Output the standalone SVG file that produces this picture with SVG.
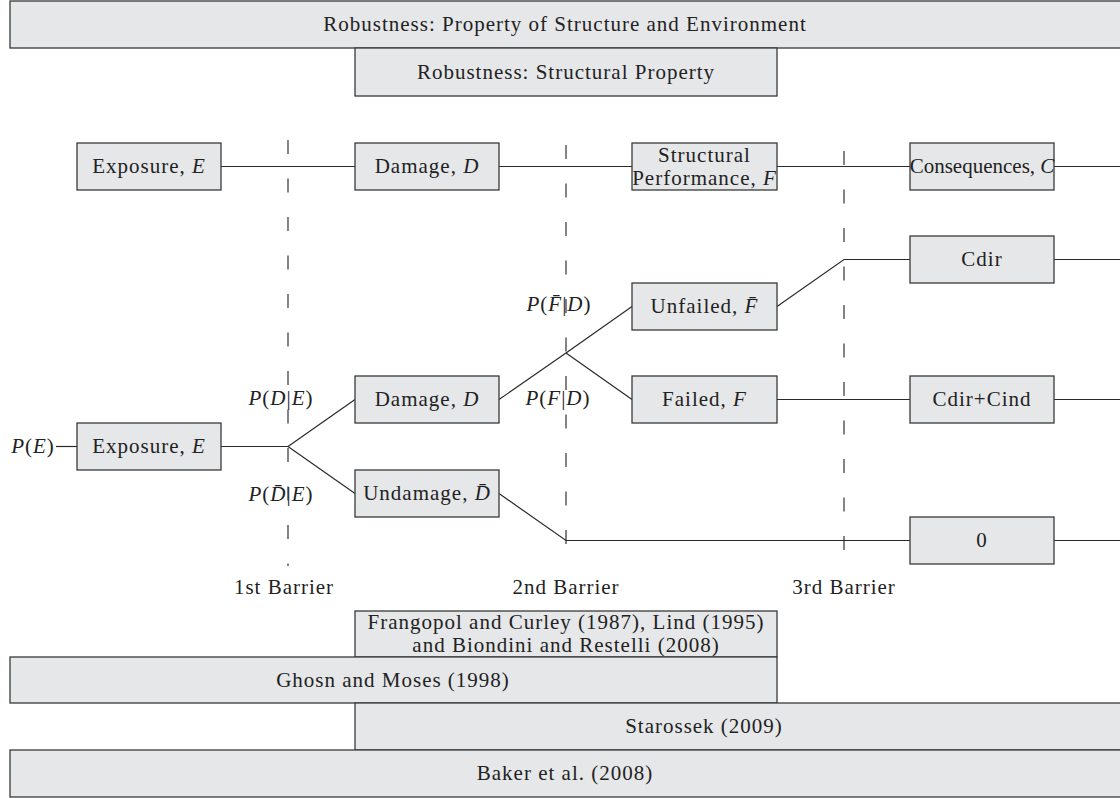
<svg xmlns="http://www.w3.org/2000/svg" width="1120" height="798" viewBox="0 0 1120 798">
<style>
  .box { fill: #e6e7e9; stroke: #3a3a3a; stroke-width: 1.3; }
  .t { font-family: "Liberation Serif", "Times New Roman", serif; font-size: 21px; fill: #222; text-anchor: middle; letter-spacing: 1px; }
  .tight { letter-spacing: 0px; }
  .i { font-style: italic; }
  .ln { fill: none; stroke: #2a2a2a; stroke-width: 1.2; }
  .bar { fill: none; stroke: #333; stroke-width: 1.2; stroke-dasharray: 14 24.5; }
</style>
<rect width="1120" height="798" fill="#ffffff"/>

<!-- barriers -->
<g id="barriers">
  <line class="bar" x1="288" y1="140" x2="288" y2="566"/>
  <line class="bar" x1="566" y1="143" x2="566" y2="566" stroke-dashoffset="36.5"/>
  <line class="bar" x1="844" y1="143" x2="844" y2="566" stroke-dashoffset="30.5"/>
  <text class="t" x="284" y="594">1st Barrier</text>
  <text class="t" x="566" y="594">2nd Barrier</text>
  <text class="t" x="844" y="594">3rd Barrier</text>
</g>

<!-- connectors -->
<g id="connectors">
  <line class="ln" x1="221" y1="166.5" x2="355" y2="166.5"/>
  <line class="ln" x1="499" y1="166.5" x2="632" y2="166.5"/>
  <line class="ln" x1="777" y1="166.5" x2="910" y2="166.5"/>
  <line class="ln" x1="1054" y1="166.5" x2="1125" y2="166.5"/>

  <line class="ln" x1="56" y1="446.5" x2="77" y2="446.5"/>
  <line class="ln" x1="221" y1="446.5" x2="288" y2="446.5"/>
  <line class="ln" x1="288" y1="446.5" x2="355" y2="399.5"/>
  <line class="ln" x1="288" y1="446.5" x2="355" y2="493.5"/>

  <line class="ln" x1="499" y1="399.5" x2="566" y2="353"/>
  <line class="ln" x1="566" y1="353" x2="632" y2="306.5"/>
  <line class="ln" x1="566" y1="353" x2="632" y2="399.5"/>

  <polyline class="ln" points="777,306.5 844,259.5 910,259.5"/>
  <line class="ln" x1="777" y1="399.5" x2="910" y2="399.5"/>
  <polyline class="ln" points="499,493.5 566,540.5 910,540.5"/>

  <line class="ln" x1="1054" y1="259.5" x2="1125" y2="259.5"/>
  <line class="ln" x1="1054" y1="399.5" x2="1125" y2="399.5"/>
  <line class="ln" x1="1054" y1="540.5" x2="1125" y2="540.5"/>
</g>

<!-- header boxes -->
<g id="robust-env">
  <rect class="box" x="10" y="1" width="1120" height="47"/>
  <text class="t" x="565" y="31">Robustness: Property of Structure and Environment</text>
</g>
<g id="robust-struct">
  <rect class="box" x="355" y="48" width="422" height="48"/>
  <text class="t" x="566" y="79">Robustness: Structural Property</text>
</g>

<!-- row 1 -->
<g id="exposure-top">
  <rect class="box" x="77" y="143" width="144" height="47"/>
  <text class="t" x="149" y="173">Exposure, <tspan class="i">E</tspan></text>
</g>
<g id="damage-top">
  <rect class="box" x="355" y="143" width="144" height="47"/>
  <text class="t" x="427" y="173">Damage, <tspan class="i">D</tspan></text>
</g>
<g id="performance-top">
  <rect class="box" x="632" y="143" width="145" height="47"/>
  <text class="t" x="704.5" y="162">Structural</text>
  <text class="t" x="704.5" y="185">Performance, <tspan class="i">F</tspan></text>
</g>
<g id="consequences-top">
  <rect class="box" x="910" y="143" width="144" height="47"/>
  <text class="t tight" x="982" y="173">Consequences, <tspan class="i">C</tspan></text>
</g>

<!-- tree -->
<g id="pe-label">
  <text class="t" x="33" y="453"><tspan class="i">P</tspan>(<tspan class="i">E</tspan>)</text>
</g>
<g id="exposure">
  <rect class="box" x="77" y="423" width="144" height="47"/>
  <text class="t" x="149" y="453">Exposure, <tspan class="i">E</tspan></text>
</g>
<g id="damage">
  <rect class="box" x="355" y="376" width="144" height="47"/>
  <text class="t" x="427" y="406">Damage, <tspan class="i">D</tspan></text>
</g>
<g id="undamage">
  <rect class="box" x="355" y="470" width="144" height="47"/>
  <text class="t" x="427" y="500">Undamage, <tspan class="i">D̄</tspan></text>
</g>
<g id="unfailed">
  <rect class="box" x="632" y="283" width="145" height="47"/>
  <text class="t" x="704.5" y="313">Unfailed, <tspan class="i">F̄</tspan></text>
</g>
<g id="failed">
  <rect class="box" x="632" y="376" width="145" height="47"/>
  <text class="t" x="704.5" y="406">Failed, <tspan class="i">F</tspan></text>
</g>
<g id="cdir">
  <rect class="box" x="910" y="236" width="144" height="47"/>
  <text class="t" x="982" y="266">Cdir</text>
</g>
<g id="cdir-cind">
  <rect class="box" x="910" y="376" width="144" height="47"/>
  <text class="t" x="982" y="406">Cdir+Cind</text>
</g>
<g id="zero">
  <rect class="box" x="910" y="517" width="144" height="47"/>
  <text class="t" x="982" y="547">0</text>
</g>

<g id="prob-labels">
  <text class="t" x="281" y="405"><tspan class="i">P</tspan>(<tspan class="i">D</tspan>|<tspan class="i">E</tspan>)</text>
  <text class="t" x="281" y="501"><tspan class="i">P</tspan>(<tspan class="i">D̄</tspan>|<tspan class="i">E</tspan>)</text>
  <text class="t" x="559" y="311"><tspan class="i">P</tspan>(<tspan class="i">F̄</tspan>|<tspan class="i">D</tspan>)</text>
  <text class="t" x="558" y="405"><tspan class="i">P</tspan>(<tspan class="i">F</tspan>|<tspan class="i">D</tspan>)</text>
</g>

<!-- bottom reference boxes -->
<g id="frangopol">
  <rect class="box" x="355" y="611" width="422" height="46"/>
  <text class="t" x="566" y="629">Frangopol and Curley (1987), Lind (1995)</text>
  <text class="t" x="566" y="652">and Biondini and Restelli (2008)</text>
</g>
<g id="ghosn">
  <rect class="box" x="10" y="657" width="767" height="46"/>
  <text class="t" x="393" y="687">Ghosn and Moses (1998)</text>
</g>
<g id="starossek">
  <rect class="box" x="355" y="703" width="775" height="47"/>
  <text class="t" x="704" y="733">Starossek (2009)</text>
</g>
<g id="baker">
  <rect class="box" x="10" y="750" width="1120" height="47"/>
  <text class="t" x="565" y="780">Baker et al. (2008)</text>
</g>
</svg>
